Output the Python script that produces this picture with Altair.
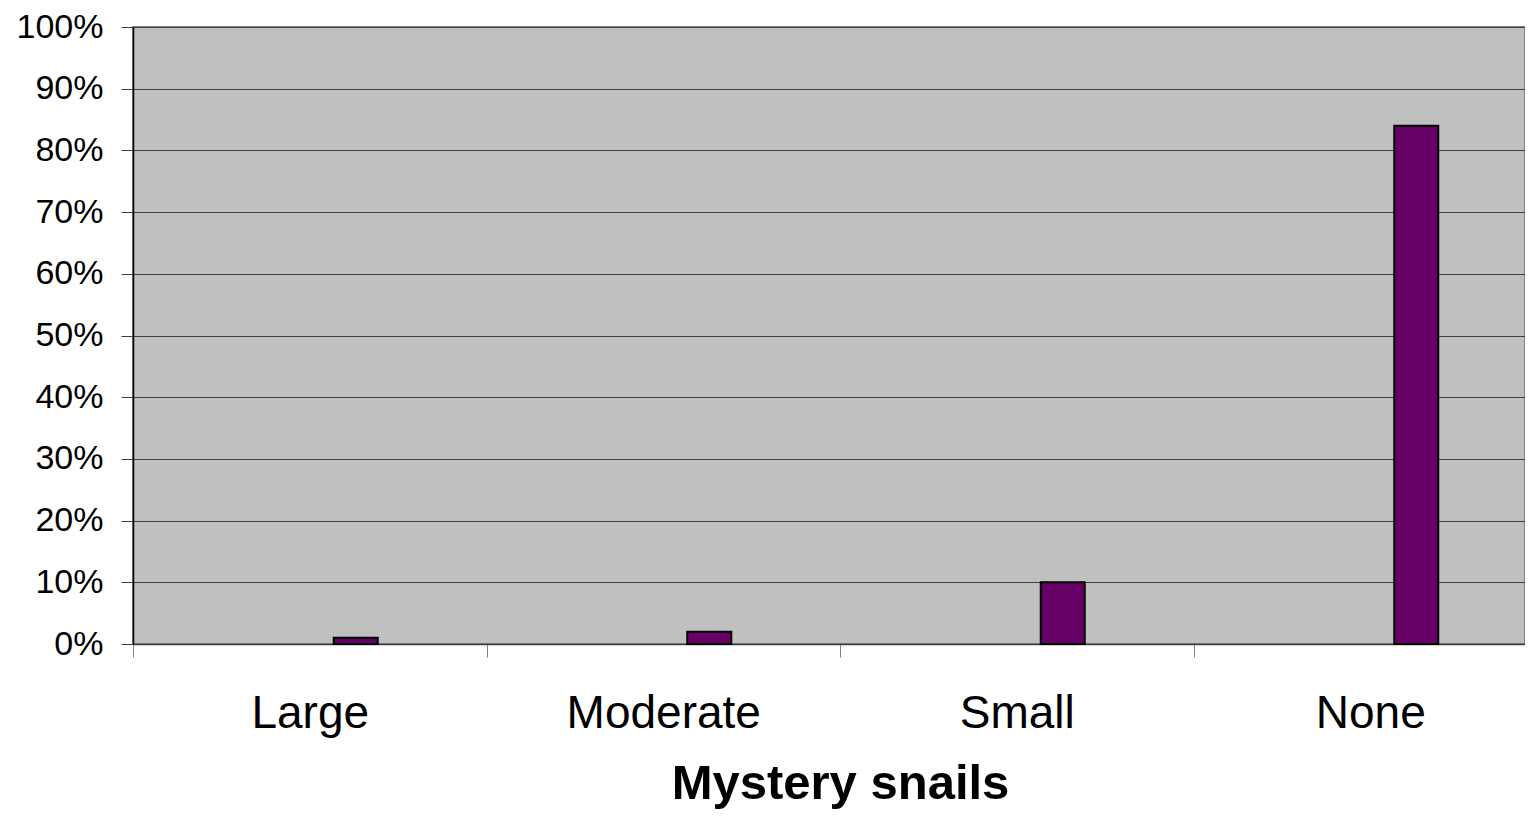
import altair as alt
import pandas as pd

categories = ["Large", "Moderate", "Small", "None"]
values = [0.01, 0.02, 0.10, 0.84]
y_ticks = [0, 0.1, 0.2, 0.3, 0.4, 0.5, 0.6, 0.7, 0.8, 0.9, 1.0]

df = pd.DataFrame({"category": categories, "value": values})

FONT = "Liberation Sans"

chart = alt.Chart(df).mark_bar(
    fill="#660066", stroke="#000000", strokeWidth=2, width=44, xOffset=46
).encode(
    x=alt.X("category:N", sort=categories,
            scale=alt.Scale(paddingInner=0, paddingOuter=0, range=[0, 1414]),
            axis=alt.Axis(title="Mystery snails", labelAngle=0, tickBand="extent",
                          labelFontSize=46, labelFont=FONT, labelColor="#000000",
                          labelLimit=0, labelPadding=34, tickSize=13,
                          tickColor="#808080",
                          domainColor="#404040", domainWidth=1.5,
                          titleFont=FONT, titleFontSize=49, titleFontWeight="bold",
                          titleColor="#000000", titlePadding=23, titleX=707,
                          grid=False)),
    y=alt.Y("value:Q", scale=alt.Scale(domain=[0, 1], nice=False),
            axis=alt.Axis(title=None, values=y_ticks, format=".0%",
                          labelFontSize=34, labelFont=FONT, labelColor="#000000",
                          labelPadding=18, tickSize=12, tickColor="#404040",
                          domainColor="#000000", domainWidth=1.5,
                          grid=True, gridColor="#404040", gridWidth=1,
                          gridOpacity=1)),
).properties(
    width=1392, height=617,
    autosize=alt.AutoSizeParams(type="none"),
    padding={"left": 125, "top": 19, "right": 0, "bottom": 168},
).configure_view(
    fill="#c0c0c0", stroke="#808080", strokeWidth=2
)

chart.save("out.html", embed_options={"renderer": "svg", "actions": False})
